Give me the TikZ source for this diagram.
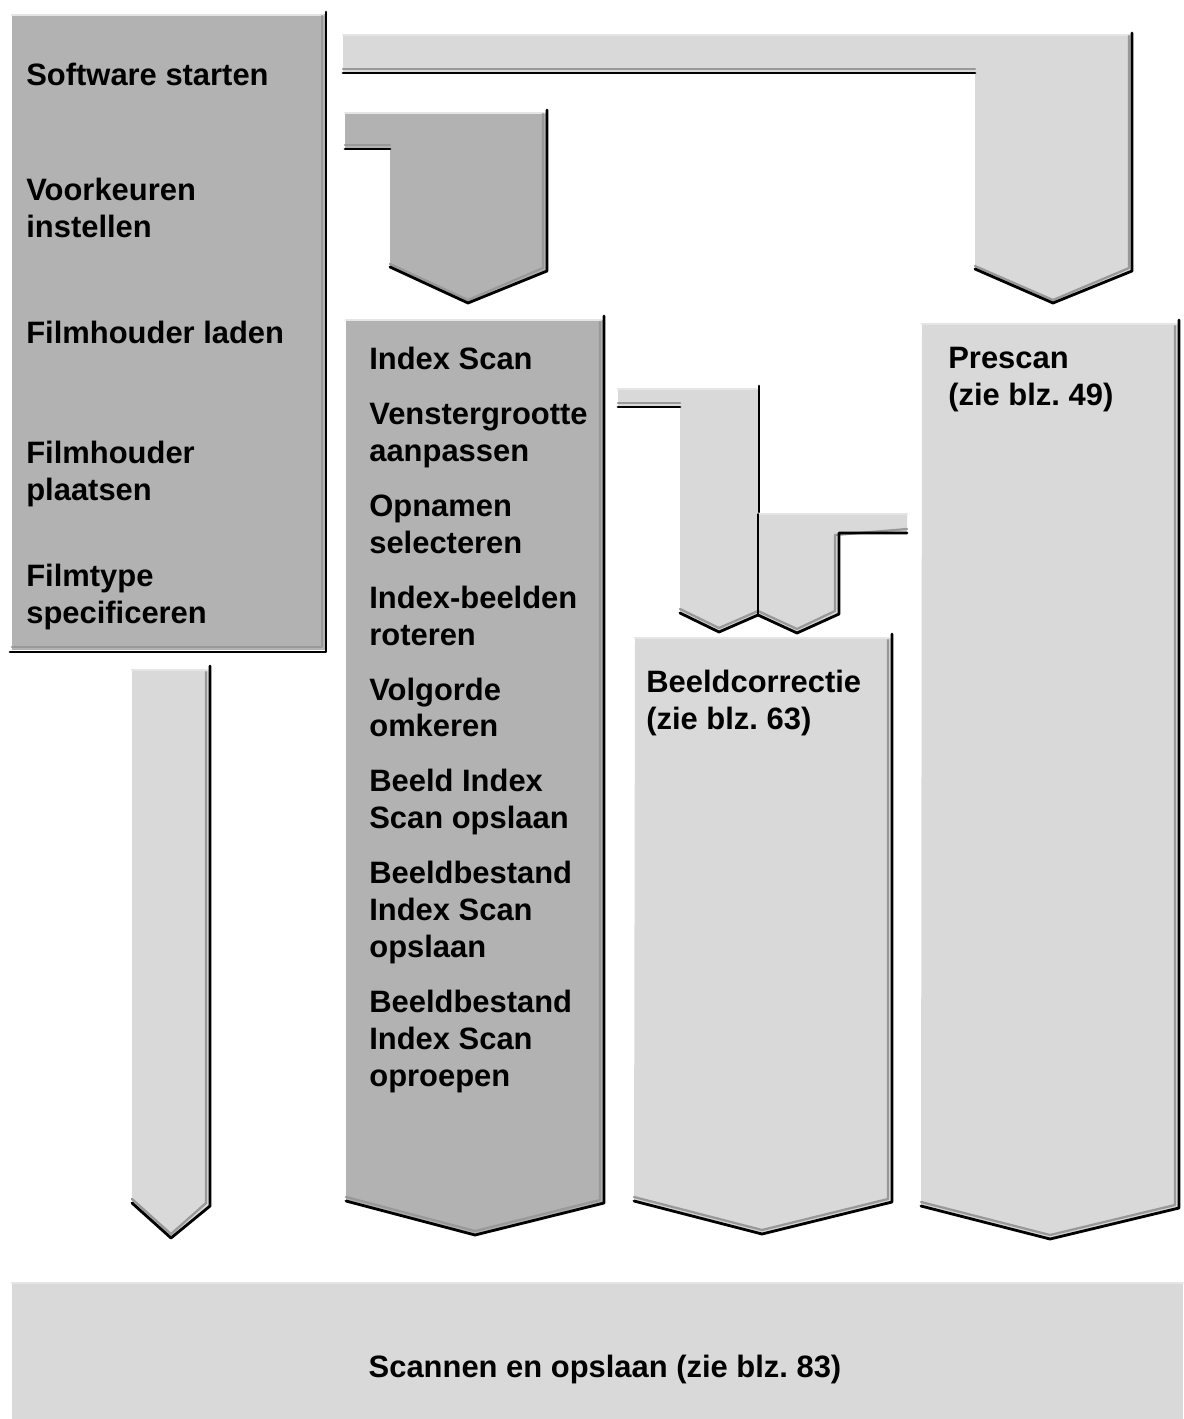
\documentclass[tikz,border=0pt]{standalone}
\usepackage{fontspec}
\setmainfont{Liberation Sans}
\usepackage{tikz}
\usepackage{xcolor}
\frenchspacing

\begin{document}
\begin{tikzpicture}[x=0.02cm,y=-0.02cm,line cap=round,line join=round,
  darkpart/.style={fill=black!30},
  lightpart/.style={fill=black!15},
  rim/.style={black,line width=1.6pt},
  bevel/.style={black!40,line width=1.3pt},
  gleam/.style={white!90!black,line width=1.6pt},
  itemtext/.style={font=\bfseries\fontsize{17.6}{21}\selectfont,align=left,inner sep=0pt,anchor=north west}]
\useasboundingbox (0,0) rectangle (1183,1419);
\fill[darkpart] (12,14) rectangle (325,650);
\draw[gleam] (12,15) -- (323,15);
\draw[bevel] (12,647) -- (322,647) -- (322,16);
\draw[rim] (10,652) -- (326,652) -- (326,12);
\fill[lightpart] (343,35) -- (1132,35) -- (1132,271) -- (1053,303) -- (975,269) -- (975,72) -- (343,72) -- cycle;
\draw[gleam] (343,35) -- (1130,35);
\draw[bevel] (343,69) -- (975,69);
\draw[bevel] (1129,36) -- (1129,268) -- (1053,300) -- (975,266);
\draw[rim] (343,73) -- (975,73);
\draw[rim] (1132,33) -- (1132,271) -- (1053,303) -- (975,269);
\fill[darkpart] (345,113) -- (546,113) -- (546,271) -- (468,303) -- (390,267) -- (390,148) -- (345,148) -- cycle;
\draw[gleam] (345,113) -- (544,113);
\draw[bevel] (345,145) -- (390,145);
\draw[bevel] (543,114) -- (543,268) -- (468,300) -- (390,264);
\draw[rim] (345,149) -- (390,149);
\draw[rim] (547,110) -- (547,271) -- (468,303) -- (390,267);
\fill[darkpart] (346,320) -- (603,320) -- (603,1203) -- (475,1234) -- (346,1200) -- cycle;
\draw[gleam] (346,320) -- (601,320);
\draw[bevel] (600,322) -- (600,1200) -- (475,1231) -- (346,1197);
\draw[rim] (604,316) -- (604,1203) -- (475,1235) -- (346,1201);
\fill[lightpart] (132,670) -- (209,670) -- (209,1206) -- (171,1237) -- (132,1202) -- cycle;
\draw[gleam] (132,670) -- (207,670);
\draw[bevel] (206,672) -- (206,1203) -- (171,1234) -- (132,1199);
\draw[rim] (210,666) -- (210,1206) -- (171,1238) -- (132,1203);
\fill[lightpart] (635,638) -- (891,638) -- (891,1202) -- (762,1233) -- (634,1200) -- cycle;
\draw[gleam] (635,638) -- (889,638);
\draw[bevel] (888,640) -- (888,1199) -- (762,1230) -- (634,1197);
\draw[rim] (892,634) -- (892,1202) -- (762,1234) -- (634,1201);
\fill[lightpart] (922,324) -- (1178,324) -- (1178,1208) -- (1050,1238) -- (921,1205) -- cycle;
\draw[gleam] (922,324) -- (1176,324);
\draw[bevel] (1175,326) -- (1175,1205) -- (1050,1235) -- (921,1202);
\draw[rim] (1179,320) -- (1179,1208) -- (1050,1239) -- (921,1206);
\fill[lightpart] (618,389) -- (758,389) -- (758,614) -- (719,631) -- (680,612) -- (680,406) -- (618,406) -- cycle;
\fill[lightpart] (907,514) -- (758,514) -- (758,614) -- (797,632) -- (838,614) -- (838,532) -- (907,532) -- cycle;
\draw[gleam] (618,389) -- (756,389);
\draw[gleam] (760,514) -- (907,514);
\draw[bevel] (618,403) -- (680,403);
\draw[bevel] (680,609) -- (719,628) -- (758,611) -- (797,629) -- (835,611) -- (835,535) -- (907,529);
\draw[rim] (618,407) -- (680,407);
\draw[rim] (759,386) -- (759,512);
\draw[black,line width=0.8pt] (758,514) -- (758,614);
\draw[rim] (907,533) -- (839,533) -- (839,614) -- (797,633) -- (758,615) -- (719,632) -- (680,613);
\fill[lightpart] (12,1283) rectangle (1183,1419);
\draw[gleam] (12,1283) -- (1183,1283);
\node[itemtext] (software) at (26,63) {Software starten};
\node[itemtext] (voorkeuren) at (26,178) {Voorkeuren\\instellen};
\node[itemtext] (laden) at (26,321) {Filmhouder laden};
\node[itemtext] (plaatsen) at (26,441) {Filmhouder\\plaatsen};
\node[itemtext] (filmtype) at (26,564) {Filmtype\\specificeren};
\node[itemtext] (indexscan) at (369,347) {Index Scan\\[0.36cm]Venstergrootte\\aanpassen\\[0.36cm]Opnamen\\selecteren\\[0.36cm]Index-beelden\\roteren\\[0.36cm]Volgorde\\omkeren\\[0.36cm]Beeld Index\\Scan opslaan\\[0.36cm]Beeldbestand\\Index Scan\\opslaan\\[0.36cm]Beeldbestand\\Index Scan\\oproepen};
\node[itemtext] (correctie) at (646,670) {Beeldcorrectie\\(zie blz. 63)};
\node[itemtext] (prescan) at (948,347) {Prescan\\(zie blz. 49)};
\node[itemtext,anchor=base] (scannen) at (605,1377) {Scannen en opslaan (zie blz. 83)};
\end{tikzpicture}
\end{document}
